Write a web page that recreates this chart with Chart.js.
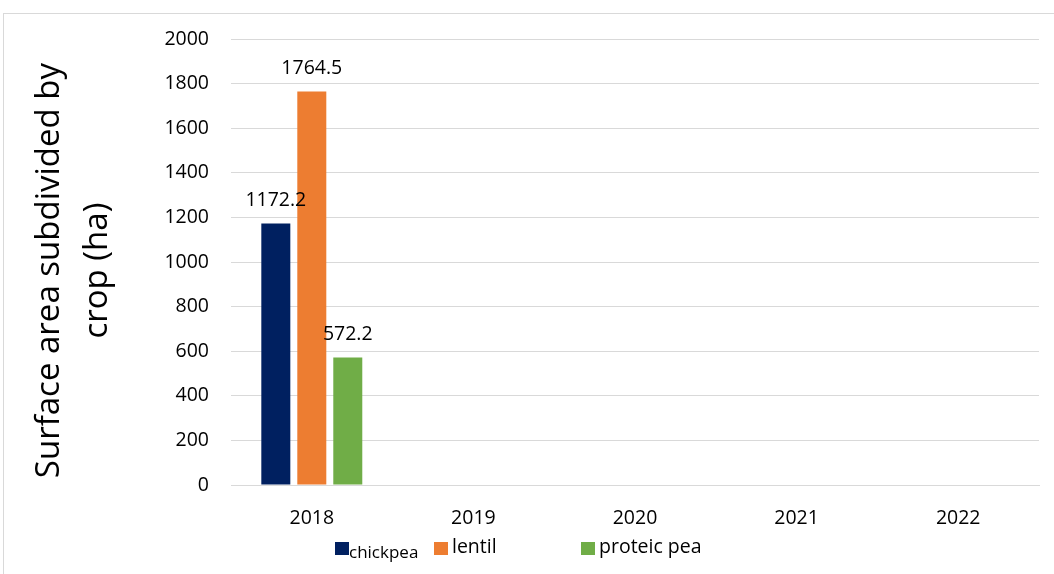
<!DOCTYPE html>
<html>
<head>
    <title>Surface area subdivided by crop</title>
    <script src="https://cdn.jsdelivr.net/npm/chart.js"></script>
    <style>
        body { margin: 0; background: #fff; font-family: "Open Sans", sans-serif; }
        #wrap { position: relative; width: 1054px; height: 574px; overflow: hidden; }
        #frame { position: absolute; left: 3px; top: 13px; width: 1060px; height: 580px;
                 border-top: 1px solid #d9d9d9; border-left: 1px solid #d9d9d9; }
        #chart { position: absolute; left: 0; top: 0; }
        .lg { position: absolute; color: #000; white-space: nowrap; line-height: 1; }
        .sw { position: absolute; width: 14px; height: 13px; }
    </style>
</head>
<body>
<div id="wrap">
    <div id="frame"></div>
    <canvas id="chart" width="1054" height="574"></canvas>
    <div id="legend"></div>
</div>
<script>
    // chart data
    const years = ['2018', '2019', '2020', '2021', '2022'];
    const chickpea = [1172.2, null, null, null, null];
    const lentil = [1764.5, null, null, null, null];
    const proteicPea = [572.2, null, null, null, null];
    const seriesNames = ['chickpea', 'lentil', 'proteic pea'];
    const seriesColors = ['#002060', '#ed7d31', '#70ad47'];
    // trailing spaces nudge the centred rotated title down a little
    const yTitle = ['Surface area subdivided by  ', 'crop (ha)  '];

    const tickFont = { family: 'Open Sans', size: 19.5 };

    // value labels above the bars
    const barLabels = {
        id: 'barLabels',
        afterDatasetsDraw(chart) {
            const ctx = chart.ctx;
            ctx.save();
            ctx.font = '19.5px "Open Sans"';
            ctx.fillStyle = '#000';
            ctx.textAlign = 'center';
            ctx.textBaseline = 'middle';
            chart.data.datasets.forEach((ds, i) => {
                chart.getDatasetMeta(i).data.forEach((bar, j) => {
                    if (ds.data[j] == null) return;
                    ctx.fillText(ds.data[j].toFixed(1), bar.x, bar.y - 23);
                });
            });
            ctx.restore();
        }
    };

    new Chart(document.getElementById('chart'), {
        type: 'bar',
        data: {
            labels: years,
            datasets: [chickpea, lentil, proteicPea].map((d, i) => ({
                label: seriesNames[i],
                data: d,
                backgroundColor: seriesColors[i],
                barPercentage: 0.806,
                categoryPercentage: 0.668
            }))
        },
        options: {
            responsive: false,
            animation: false,
            layout: { padding: { left: 0, right: 15, top: 39, bottom: 0 } },
            plugins: {
                legend: { display: false },
                tooltip: { enabled: false }
            },
            scales: {
                x: {
                    grid: { display: false, drawTicks: false },
                    border: { color: '#d9d9d9', width: 1 },
                    ticks: { color: '#000', font: tickFont, padding: 22 },
                    afterFit(scale) { scale.height = 89; }
                },
                y: {
                    min: 0, max: 2000,
                    ticks: {
                        stepSize: 200, color: '#000', font: tickFont, padding: 22,
                        callback: v => String(v)
                    },
                    grid: { color: '#d9d9d9', drawTicks: false },
                    border: { display: false },
                    title: {
                        display: true,
                        text: yTitle,
                        color: '#000',
                        font: { family: 'Open Sans', size: 33, lineHeight: 1.45 },
                        padding: { top: 26, bottom: 0 }
                    },
                    afterFit(scale) { scale.width = 231; }
                }
            }
        },
        plugins: [barLabels]
    });

    // legend with its odd spacing, as in the source
    const legendItems = [
        { name: seriesNames[0], color: seriesColors[0], sx: 335, tx: 349, size: 17, top: 543 },
        { name: seriesNames[1], color: seriesColors[1], sx: 434, tx: 452, size: 19.5, top: 536 },
        { name: seriesNames[2], color: seriesColors[2], sx: 581, tx: 599, size: 19.5, top: 536 }
    ];
    let html = '';
    legendItems.forEach(it => {
        html += `<div class="sw" style="left:${it.sx}px;top:542px;background:${it.color}"></div>`;
        html += `<div class="lg" style="left:${it.tx}px;top:${it.top}px;font-size:${it.size}px">${it.name}</div>`;
    });
    document.getElementById('legend').innerHTML = html;
</script>
</body>
</html>
